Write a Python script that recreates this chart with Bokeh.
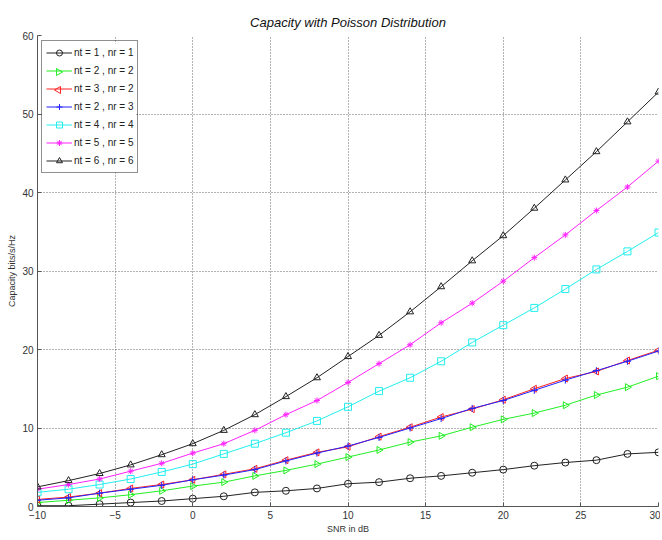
import numpy as np
from bokeh.plotting import figure
from bokeh.models import Range1d, FixedTicker, Legend, LegendItem
from bokeh.embed import file_html
from bokeh.resources import INLINE

snr = [-10, -8, -6, -4, -2, 0, 2, 4, 6, 8, 10, 12, 14, 16, 18, 20, 22, 24, 26, 28, 30]
c11 = [0.1, 0.1, 0.3, 0.5, 0.7, 1.0, 1.3, 1.8, 2.0, 2.3, 2.9, 3.1, 3.6, 3.9, 4.3, 4.7, 5.2, 5.6, 5.9, 6.7, 6.9]
c22 = [0.5, 0.8, 1.1, 1.5, 2.0, 2.6, 3.1, 3.9, 4.6, 5.4, 6.3, 7.2, 8.2, 9.0, 10.1, 11.1, 11.9, 12.9, 14.2, 15.2, 16.6]
c32 = [0.9, 1.2, 1.7, 2.3, 2.8, 3.4, 4.1, 4.8, 5.9, 6.9, 7.6, 8.9, 10.1, 11.4, 12.4, 13.6, 15.0, 16.3, 17.2, 18.6, 19.9]
c23 = [0.8, 1.1, 1.7, 2.2, 2.7, 3.4, 4.0, 4.7, 5.8, 6.8, 7.7, 8.8, 10.0, 11.2, 12.5, 13.5, 14.8, 16.1, 17.3, 18.5, 19.8]
c44 = [1.8, 2.2, 2.8, 3.5, 4.4, 5.4, 6.7, 8.0, 9.4, 10.9, 12.7, 14.7, 16.4, 18.5, 20.9, 23.1, 25.3, 27.7, 30.2, 32.5, 34.9]
c55 = [2.2, 2.8, 3.5, 4.5, 5.5, 6.8, 8.0, 9.7, 11.7, 13.5, 15.8, 18.2, 20.6, 23.4, 25.9, 28.7, 31.7, 34.6, 37.7, 40.7, 44.0]
c66 = [2.5, 3.3, 4.2, 5.3, 6.6, 8.0, 9.7, 11.7, 14.0, 16.4, 19.1, 21.8, 24.8, 28.0, 31.3, 34.5, 38.0, 41.6, 45.2, 49.0, 52.8]

labels = ["nt = 1 , nr = 1", "nt = 2 , nr = 2", "nt = 3 , nr = 2", "nt = 2 , nr = 3",
          "nt = 4 , nr = 4", "nt = 5 , nr = 5", "nt = 6 , nr = 6"]
x_ticks = [-10, -5, 0, 5, 10, 15, 20, 25, 30]
y_ticks = [0, 10, 20, 30, 40, 50, 60]

FONT = "Liberation Sans"
W, H = 660, 538
BL, BR, BT, BB = 37, 2, 35, 32
FW = W - BL - BR
FH = H - BT - BB
X0, X1, Y0, Y1 = -10, 30, 0, 60

def sx(px):  # frame pixel offset -> data x
    return X0 + px * (X1 - X0) / FW

def sy(py):  # frame pixel offset from bottom -> data y
    return Y0 + py * (Y1 - Y0) / FH

p = figure(width=W, height=H, output_backend="svg", toolbar_location=None,
           x_range=Range1d(X0, X1), y_range=Range1d(Y0, Y1),
           min_border_left=BL, min_border_right=BR, min_border_top=BT, min_border_bottom=BB,
           title="Capacity with Poisson Distribution")
p.title.align = "center"
p.title.text_font = "Liberation Sans"
p.title.text_font_style = "italic"
p.title.text_font_size = "13px"
p.title.text_color = "#111111"
p.title.standoff = 12
p.outline_line_color = None
p.background_fill_color = "white"

for ax in (p.xaxis[0], p.yaxis[0]):
    ax.major_label_text_font = FONT
    ax.major_label_text_font_size = "10px"
    ax.major_label_text_color = "#333333"
    ax.axis_label_text_font = FONT
    ax.axis_label_text_font_size = "9px"
    ax.axis_label_text_font_style = "normal"
    ax.axis_label_text_color = "#333333"
    ax.axis_line_color = "#555555"
    ax.major_tick_line_color = "#555555"
    ax.major_tick_in = 4
    ax.major_tick_out = 0
    ax.minor_tick_line_color = None
    ax.axis_label_standoff = 2
    ax.major_label_standoff = 4

p.xaxis.ticker = FixedTicker(ticks=x_ticks)
p.yaxis.ticker = FixedTicker(ticks=y_ticks)
p.xaxis.axis_label = "SNR in dB"
p.yaxis.axis_label = "Capacity bits/s/Hz"

for g in (p.xgrid[0], p.ygrid[0]):
    g.grid_line_color = "#666666"
    g.grid_line_dash = "1 2"
    g.grid_line_width = 1

items = []

def series(y, color, marker, label, angle=0.0, fill=None, size=7, legend_marker=True):
    l = p.line(snr, y, line_color=color, line_width=1)
    m = p.scatter(snr, y, marker=marker, size=size, angle=angle,
                  line_color=color, fill_color=fill, line_width=1)
    items.append(LegendItem(label=label, renderers=[l, m] if legend_marker else [l]))

series(c11, "#222222", "circle", labels[0])
series(c22, "#22ee22", "triangle", labels[1], angle=-np.pi / 2, legend_marker=False)
series(c32, "#ff2222", "triangle", labels[2], angle=np.pi / 2, legend_marker=False)
series(c23, "#2222ff", "cross", labels[3])
series(c44, "#22eeee", "square", labels[4])
series(c55, "#ff22ff", "asterisk", labels[5], fill="#ff22ff", size=6)
series(c66, "#222222", "triangle", labels[6])

PAD, GH, SP, GW = 4, 15, 3, 26
LEG_H = 7 * GH + 6 * SP + 2 * PAD
LEG_W = 94
LX, LTOP = 4, 7

# white backing of the legend box (glyph level, above grid and data lines)
p.quad(left=[sx(LX + 1)], right=[sx(LX + LEG_W)], top=[sy(FH - LTOP - 1)],
       bottom=[sy(FH - LTOP - LEG_H + 1)], fill_color="white", line_color=None)

# sideways triangles in the legend (Bokeh never rotates legend glyphs)
for idx, ang, col in [(1, -np.pi / 2, "#22ee22"), (2, np.pi / 2, "#ff2222")]:
    cx = LX + PAD + GW / 2
    cy = FH - (LTOP + PAD + GH / 2 + idx * (GH + SP))
    p.scatter([sx(cx)], [sy(cy)], marker="triangle", size=7, angle=ang,
              line_color=col, fill_color=None, line_width=1)

legend = Legend(items=items, location=(LX, FH - LTOP - LEG_H))
legend.margin = 0
legend.padding = PAD
legend.spacing = SP
legend.label_text_font = FONT
legend.label_text_font_size = "10px"
legend.label_text_color = "#222222"
legend.label_height = GH
legend.glyph_height = GH
legend.glyph_width = GW
legend.label_standoff = 2
legend.border_line_color = "#222222"
legend.border_line_width = 1
legend.background_fill_alpha = 0
p.add_layout(legend)

open("out.html", "w").write(file_html(p, INLINE))
